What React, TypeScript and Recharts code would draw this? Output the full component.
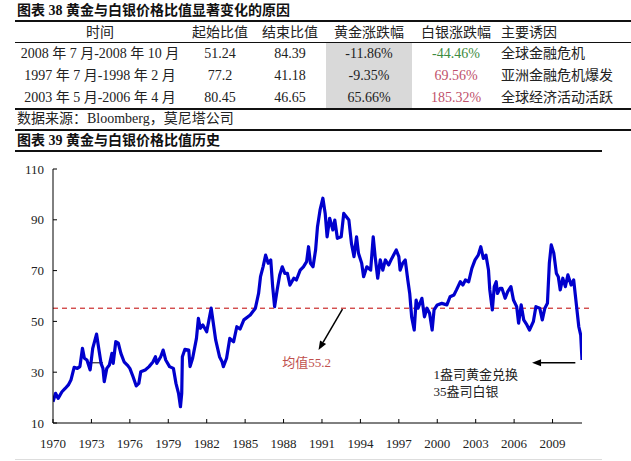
import React from "react";
import { LineChart, Line, XAxis, YAxis, ReferenceLine, ReferenceDot } from "recharts";

// 图表 38 表格
const tableHeader = ["时间", "起始比值", "结束比值", "黄金涨跌幅", "白银涨跌幅", "主要诱因"];
const periods = ["2008 年 7 月-2008 年 10 月", "1997 年 7 月-1998 年 2 月", "2003 年 5 月-2006 年 4 月"];
const startRatios = ["51.24", "77.2", "80.45"];
const endRatios = ["84.39", "41.18", "46.65"];
const goldChange = ["-11.86%", "-9.35%", "65.66%"];
const silverChange = ["-44.46%", "69.56%", "185.32%"];
const causes = ["全球金融危机", "亚洲金融危机爆发", "全球经济活动活跃"];

// 图表 39 金银比历史
const years = [
  1970.0, 1970.2, 1970.4, 1970.7, 1970.95, 1971.2, 1971.4, 1971.65, 1971.9, 1972.1,
  1972.3, 1972.45, 1972.65, 1972.9, 1973.1, 1973.4, 1973.55, 1973.75, 1973.9, 1974.0,
  1974.2, 1974.4, 1974.6, 1974.7, 1974.9, 1975.1, 1975.3, 1975.55, 1975.8, 1976.0,
  1976.25, 1976.5, 1976.7, 1976.85, 1977.2, 1977.5, 1977.8, 1978.0, 1978.1, 1978.4,
  1978.6, 1978.8, 1979.1, 1979.4, 1979.6, 1979.8, 1979.95, 1980.05, 1980.1, 1980.3,
  1980.6, 1980.7, 1980.9, 1981.2, 1981.35, 1981.5, 1981.7, 1982.0, 1982.2, 1982.35,
  1982.5, 1982.7, 1983.0, 1983.2, 1983.3, 1983.55, 1983.8, 1984.1, 1984.35, 1984.6,
  1984.9, 1985.4, 1985.8, 1986.05, 1986.2, 1986.4, 1986.6, 1986.8, 1987.0, 1987.15,
  1987.3, 1987.5, 1987.7, 1987.9, 1988.1, 1988.3, 1988.5, 1988.8, 1989.0, 1989.3,
  1989.55, 1989.8, 1989.95, 1990.1, 1990.3, 1990.5, 1990.65, 1990.85, 1991.07, 1991.25,
  1991.4, 1991.6, 1991.85, 1992.0, 1992.2, 1992.5, 1992.7, 1992.9, 1993.1, 1993.3,
  1993.5, 1993.7, 1993.85, 1994.1, 1994.25, 1994.5, 1994.8, 1995.0, 1995.15, 1995.35,
  1995.55, 1995.75, 1995.95, 1996.2, 1996.45, 1996.8, 1997.0, 1997.1, 1997.3, 1997.5,
  1997.7, 1997.85, 1998.0, 1998.2, 1998.35, 1998.5, 1998.8, 1999.0, 1999.2, 1999.4,
  1999.6, 1999.75, 2000.0, 2000.35, 2000.75, 2001.0, 2001.3, 2001.5, 2001.8, 2002.0,
  2002.2, 2002.45, 2002.7, 2002.95, 2003.2, 2003.4, 2003.6, 2003.8, 2004.0, 2004.1,
  2004.3, 2004.45, 2004.6, 2004.7, 2004.9, 2005.05, 2005.3, 2005.5, 2005.75, 2005.95,
  2006.2, 2006.35, 2006.55, 2006.75, 2007.0, 2007.2, 2007.5, 2007.7, 2008.0, 2008.2,
  2008.4, 2008.6, 2008.75, 2008.9, 2009.1, 2009.3, 2009.45, 2009.6, 2009.8, 2010.0,
  2010.2, 2010.45, 2010.65, 2010.85, 2011.05, 2011.2, 2011.3,
];
const ratios = [
  18.4, 21.7, 19.7, 22.3, 23.6, 25.0, 26.9, 31.9, 31.5, 32.2,
  39.4, 35.5, 34.8, 30.9, 39.4, 45.0, 40.0, 33.5, 31.5, 26.3,
  31.5, 32.8, 37.4, 33.5, 42.0, 41.4, 37.4, 34.1, 32.8, 31.5,
  28.2, 24.6, 25.6, 30.2, 30.9, 32.2, 34.0, 36.1, 33.5, 36.0,
  38.7, 34.8, 32.2, 31.5, 25.6, 21.7, 16.4, 21.7, 36.1, 39.0,
  38.7, 32.2, 35.5, 43.3, 51.2, 47.3, 48.6, 45.9, 51.2, 55.2,
  49.9, 42.7, 36.1, 34.1, 32.2, 35.5, 43.3, 42.0, 47.9, 47.0,
  50.6, 52.5, 55.2, 61.0, 67.6, 71.5, 76.1, 72.9, 74.2, 63.7,
  55.8, 62.4, 68.3, 71.5, 68.9, 68.9, 64.3, 67.0, 66.3, 70.2,
  71.5, 73.5, 79.4, 72.9, 71.5, 78.1, 87.3, 93.9, 98.5, 92.5,
  83.3, 90.6, 86.0, 89.9, 82.7, 83.3, 92.5, 91.2, 89.9, 80.7,
  75.5, 83.3, 76.8, 72.9, 67.6, 71.5, 70.2, 83.3, 75.5, 67.0,
  74.2, 70.2, 74.2, 72.2, 74.8, 78.1, 75.5, 70.2, 72.9, 74.2,
  66.3, 61.0, 51.8, 46.6, 58.4, 55.2, 59.1, 51.8, 55.2, 53.2,
  46.6, 54.5, 56.5, 57.1, 56.5, 59.7, 60.4, 62.4, 65.6, 64.3,
  66.3, 65.6, 70.9, 74.2, 76.1, 79.4, 74.8, 76.1, 70.2, 62.4,
  54.5, 63.7, 65.6, 61.0, 63.0, 63.0, 59.1, 61.7, 63.7, 58.4,
  55.8, 49.3, 56.5, 50.6, 48.6, 46.6, 49.9, 55.8, 55.2, 50.6,
  55.2, 57.1, 72.9, 80.1, 76.8, 68.9, 67.6, 62.4, 67.0, 63.7,
  68.3, 64.3, 66.3, 57.1, 47.9, 44.6, 34.8,
];
const xTicks = [1970, 1973, 1976, 1979, 1982, 1985, 1988, 1991, 1994, 1997, 2000, 2003, 2006, 2009];
const yTicks = [10, 30, 50, 70, 90, 110];
const meanRatio = 55.2;

const data = years.map((year, i) => ({ year, ratio: ratios[i] }));

const FONT = "'Liberation Serif', 'Noto Sans CJK SC', serif";

const XTick = (props: any) => {
  const { x, y, payload } = props;
  return (
    <g>
      <line x1={x} y1={y} x2={x} y2={y - 4} stroke="#000" />
      <text x={x} y={y + 25} textAnchor="middle" fontSize={13} fill="#222" fontFamily={FONT}>
        {payload.value}
      </text>
    </g>
  );
};

const YTick = (props: any) => {
  const { x, y, payload } = props;
  return (
    <g>
      <line x1={x} y1={y} x2={x + 4} y2={y} stroke="#000" />
      <text x={x - 9} y={y + 4.5} textAnchor="end" fontSize={13} fill="#222" fontFamily={FONT}>
        {payload.value}
      </text>
    </g>
  );
};

const arrow = (p: any) => {
  const { x1, y1, x2, y2 } = p;
  const a = Math.atan2(y2 - y1, x2 - x1);
  const len = 9;
  const half = 3.5;
  const bx = x2 - len * Math.cos(a);
  const by = y2 - len * Math.sin(a);
  const ox = -Math.sin(a) * half;
  const oy = Math.cos(a) * half;
  return (
    <g>
      <line x1={x1} y1={y1} x2={bx} y2={by} stroke="#000" strokeWidth={1.5} />
      <polygon points={`${x2},${y2} ${bx + ox},${by + oy} ${bx - ox},${by - oy}`} fill="#000" />
    </g>
  );
};

const label = (lines: string[], color: string) => (p: any) => (
  <text x={p.cx} y={p.cy} fontSize={13} fill={color} fontFamily={FONT}>
    {lines.map((t, i) => (
      <tspan key={i} x={p.cx} dy={i === 0 ? 4.5 : 17}>
        {t}
      </tspan>
    ))}
  </text>
);

const colCenters = [100, 220, 290, 369, 456];

const Cell = ({ x, y, text, color = "#222", align = "center" }: any) => (
  <div
    style={{
      position: "absolute",
      left: align === "center" ? x - 100 : x,
      top: y - 10,
      width: align === "center" ? 200 : 140,
      height: 20,
      lineHeight: "20px",
      textAlign: align,
      fontSize: 14,
      color,
      fontFamily: FONT,
      whiteSpace: "nowrap",
    }}
  >
    {text}
  </div>
);

const HLine = ({ y, x1 = 15, x2 = 631, w = 1, color = "#111" }: any) => (
  <div style={{ position: "absolute", left: x1, top: y, width: x2 - x1, height: w, background: color }} />
);

export default function App() {
  const rowYs = [54, 76, 98];
  return (
    <div style={{ position: "relative", width: 631, height: 461, background: "#fff", overflow: "hidden" }}>
      <style>{"body{margin:0}"}</style>

      <div style={{ position: "absolute", left: 17, top: 1, fontSize: 14, fontWeight: "bold", fontFamily: FONT, color: "#111", lineHeight: "20px" }}>
        图表 38 黄金与白银价格比值显著变化的原因
      </div>
      <HLine y={20} w={1.5} />

      {/* 黄金涨跌幅列底色 */}
      <div style={{ position: "absolute", left: 326, top: 43, width: 86, height: 65, background: "#d9d9d9" }} />

      {tableHeader.slice(0, 5).map((h, i) => (
        <Cell key={h} x={colCenters[i]} y={33} text={h} />
      ))}
      <Cell x={501} y={33} text={tableHeader[5]} align="left" />
      <HLine y={42} w={1} />

      {periods.map((p, i) => (
        <React.Fragment key={p}>
          <Cell x={colCenters[0]} y={rowYs[i]} text={p} />
          <Cell x={colCenters[1]} y={rowYs[i]} text={startRatios[i]} />
          <Cell x={colCenters[2]} y={rowYs[i]} text={endRatios[i]} />
          <Cell x={colCenters[3]} y={rowYs[i]} text={goldChange[i]} />
          <Cell
            x={colCenters[4]}
            y={rowYs[i]}
            text={silverChange[i]}
            color={silverChange[i].startsWith("-") ? "#3d8b40" : "#c0506a"}
          />
          <Cell x={501} y={rowYs[i]} text={causes[i]} align="left" />
        </React.Fragment>
      ))}
      <HLine y={108} w={1.5} />

      <div style={{ position: "absolute", left: 17, top: 109, fontSize: 14, fontFamily: FONT, color: "#222", lineHeight: "20px" }}>
        数据来源：Bloomberg，莫尼塔公司
      </div>
      <HLine y={129} w={1.5} />

      <div style={{ position: "absolute", left: 17, top: 131, fontSize: 14, fontWeight: "bold", fontFamily: FONT, color: "#111", lineHeight: "20px" }}>
        图表 39 黄金与白银价格比值历史
      </div>
      <HLine y={150} x2={602} w={1.5} />
      <HLine y={459} x2={602} w={1} color="#ddd" />

      <div style={{ position: "absolute", left: 0, top: 150 }}>
        <LineChart width={631} height={311} data={data} margin={{ top: 19, right: 49, bottom: 8, left: 13 }}>
          <XAxis
            type="number"
            dataKey="year"
            domain={[1970, 2011.3]}
            ticks={xTicks}
            allowDataOverflow
            height={30}
            tickSize={0}
            tickMargin={0}
            tickLine={false}
            axisLine={{ stroke: "#000" }}
            tick={<XTick />}
            interval={0}
          />
          <YAxis
            type="number"
            domain={[10, 110]}
            ticks={yTicks}
            width={40}
            tickSize={0}
            tickMargin={0}
            tickLine={false}
            axisLine={{ stroke: "#000" }}
            tick={<YTick />}
            interval={0}
          />
          <ReferenceLine
            segment={[{ x: 1970, y: meanRatio }, { x: 2012.09, y: meanRatio }]}
            ifOverflow="visible"
            stroke="#c00000"
            strokeDasharray="5 4"
            strokeWidth={1}
          />
          <ReferenceLine
            segment={[{ x: 1972.73, y: 33.7 }, { x: 1973.9, y: 33.7 }]}
            stroke="#000"
            strokeWidth={1}
          />
          <Line
            type="linear"
            dataKey="ratio"
            stroke="#0000cd"
            strokeWidth={3.2}
            strokeLinejoin="round"
            dot={false}
            isAnimationActive={false}
          />
          <ReferenceLine
            segment={[{ x: 1992.6, y: 54.8 }, { x: 1990.73, y: 38.7 }]}
            shape={arrow}
          />
          <ReferenceLine
            segment={[{ x: 2010.78, y: 33.7 }, { x: 2007.4, y: 33.7 }]}
            shape={arrow}
          />
          <ReferenceDot x={1987.9} y={34} r={0} shape={label(["均值55.2"], "#c0504d")} />
          <ReferenceDot x={1999.7} y={28.9} r={0} shape={label(["1盎司黄金兑换", "35盎司白银"], "#222")} />
        </LineChart>
      </div>
    </div>
  );
}
